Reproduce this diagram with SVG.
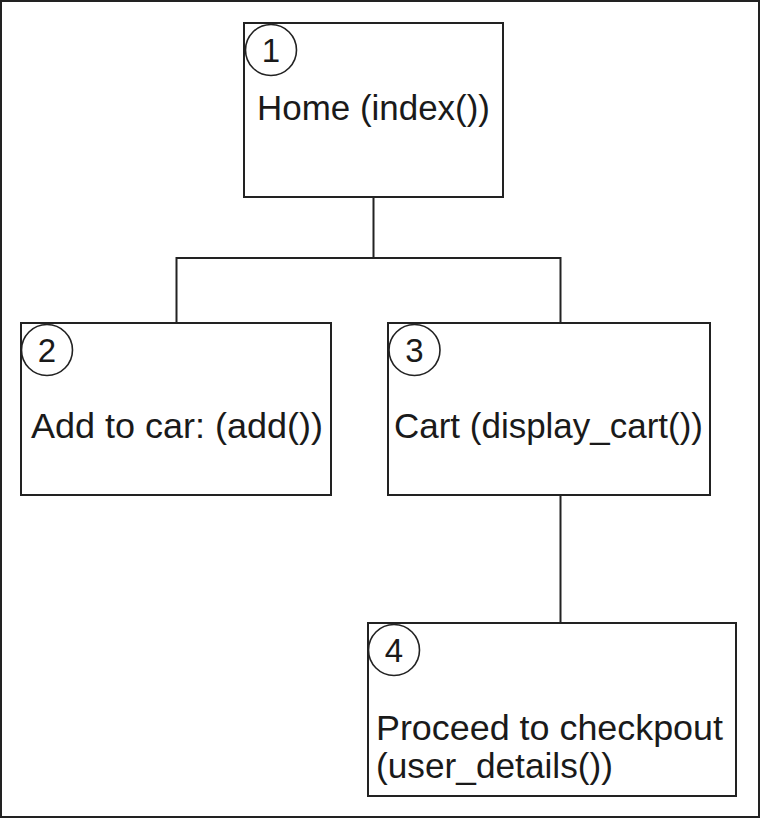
<svg xmlns="http://www.w3.org/2000/svg" width="760" height="818" viewBox="0 0 760 818">
<style>
.box{fill:#fff;stroke:#222;stroke-width:2}
.num{fill:none;stroke:#222;stroke-width:1.6}
.t{font-family:"Liberation Sans",Arial,sans-serif;font-size:35px;fill:#1a1a1a}
.n{font-family:"Liberation Sans",Arial,sans-serif;font-size:33px;fill:#1a1a1a;text-anchor:middle}
.c{fill:none;stroke:#222;stroke-width:2}
</style>
<rect x="1" y="1" width="758" height="816" fill="#fff" stroke="#222" stroke-width="2"/>
<g id="connectors">
<path class="c" d="M373.5 197 V258 M176.5 323 V258 H560.5 V323 M560.5 495 V623"/>
</g>
<g id="node1">
<rect class="box" x="244" y="23" width="259" height="174"/>
<circle class="num" cx="271" cy="50" r="25.5"/>
<text class="n" x="271" y="62">1</text>
<text class="t" x="257" y="120" textLength="233" lengthAdjust="spacingAndGlyphs">Home (index())</text>
</g>
<g id="node2">
<rect class="box" x="21" y="323" width="310" height="172"/>
<circle class="num" cx="47" cy="350" r="25.5"/>
<text class="n" x="47" y="362">2</text>
<text class="t" x="31" y="438" textLength="292" lengthAdjust="spacingAndGlyphs">Add to car: (add())</text>
</g>
<g id="node3">
<rect class="box" x="388" y="323" width="322" height="172"/>
<circle class="num" cx="414.5" cy="350" r="25.5"/>
<text class="n" x="414.5" y="362">3</text>
<text class="t" x="394" y="438" textLength="309" lengthAdjust="spacingAndGlyphs">Cart (display_cart())</text>
</g>
<g id="node4">
<rect class="box" x="368" y="623" width="368" height="173"/>
<circle class="num" cx="394" cy="650" r="25.5"/>
<text class="n" x="394" y="662">4</text>
<text class="t" x="376" y="740" textLength="347" lengthAdjust="spacingAndGlyphs">Proceed to checkpout</text>
<text class="t" x="376" y="778" textLength="237" lengthAdjust="spacingAndGlyphs">(user_details())</text>
</g>
</svg>
